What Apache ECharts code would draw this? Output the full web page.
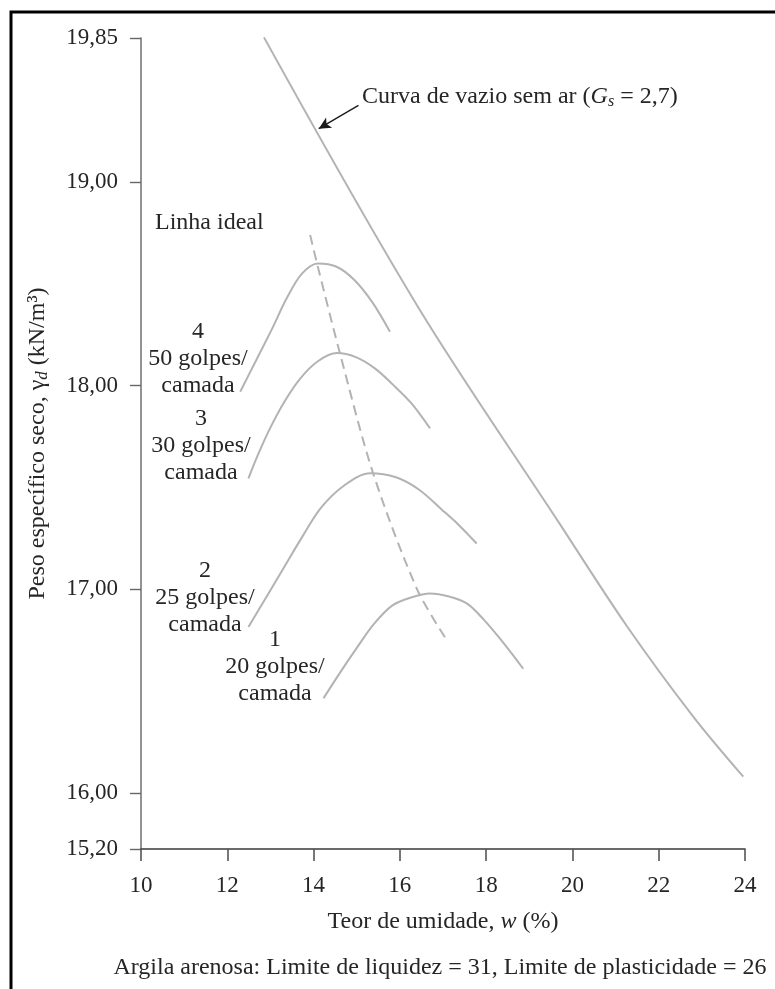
<!DOCTYPE html>
<html>
<head>
<meta charset="utf-8">
<script src="https://cdn.jsdelivr.net/npm/echarts@6/dist/echarts.min.js"></script>
<style>
  html, body { margin: 0; padding: 0; background: #ffffff; }
  #chart { width: 775px; height: 989px; }
</style>
</head>
<body>
<div id="chart"></div>
<script>
// Moisture content axis (%)
const xTicks = [10, 12, 14, 16, 18, 20, 22, 24];

// Dry unit weight axis (kN/m³). The scale is linear from 16 to 19 and broken at
// both ends, so the two end ticks carry the printed end values 15,20 and 19,85.
const yTickValues = [15.725, 16, 17, 18, 19, 19.707];
const yTickLabels = ['15,20', '16,00', '17,00', '18,00', '19,00', '19,85'];

// Compaction curves: moisture content w (%) and dry unit weight (kN/m³)
const curve1W = [14.23, 14.61, 15.01, 15.40, 15.82, 16.26, 16.70, 17.14, 17.56, 17.95, 18.35, 18.86];
const curve1G = [16.465, 16.59, 16.715, 16.83, 16.92, 16.96, 16.98, 16.965, 16.93, 16.85, 16.75, 16.61];

const curve2W = [12.49, 12.90, 13.32, 13.73, 14.17, 14.71, 15.31, 15.91, 16.44, 16.98, 17.37, 17.78];
const curve2G = [16.815, 16.96, 17.11, 17.255, 17.40, 17.51, 17.57, 17.55, 17.49, 17.39, 17.315, 17.225];

const curve3W = [12.49, 12.71, 12.99, 13.32, 13.69, 14.10, 14.54, 14.98, 15.42, 15.84, 16.26, 16.70];
const curve3G = [17.545, 17.66, 17.79, 17.92, 18.035, 18.12, 18.16, 18.14, 18.085, 18.005, 17.915, 17.79];

const curve4W = [12.30, 12.67, 13.04, 13.38, 13.73, 14.10, 14.52, 14.94, 15.36, 15.77];
const curve4G = [17.97, 18.125, 18.28, 18.43, 18.55, 18.60, 18.585, 18.52, 18.41, 18.265];

// Line of optimums (dashed)
const optimumW = [13.92, 14.08, 14.61, 15.38, 16.40, 17.12];
const optimumG = [18.74, 18.60, 18.16, 17.57, 17.00, 16.74];

// Zero-air-voids curve, Gs = 2,7
const zavW = [12.85, 16.41, 19.71, 21.26, 22.80, 23.96];
const zavG = [19.71, 18.39, 17.32, 16.82, 16.375, 16.08];

// Labels of the compaction curves
const curveNumbers = ['1', '2', '3', '4'];
const blowCounts = ['20 golpes/', '25 golpes/', '30 golpes/', '50 golpes/'];
const layerWord = 'camada';

// Arrow pointing at the zero-air-voids curve (tail -> tip)
const arrowTail = [15.04, 19.376];
const arrowTip = [14.12, 19.262];

const zip = (xs, ys) => xs.map((x, i) => [x, ys[i]]);

const SERIF = '"Liberation Serif", "DejaVu Serif", serif';
const TEXT = '#262626';
const CURVE = '#b3b3b3';
const FS = 24;      // annotation text
const FS_TICK = 23; // tick labels

const chart = echarts.init(document.getElementById('chart'), null, { renderer: 'canvas' });

const curveStyle = { color: CURVE, width: 2 };

function yLabel(v) {
  let best = 0;
  yTickValues.forEach((t, i) => { if (Math.abs(t - v) < Math.abs(yTickValues[best] - v)) best = i; });
  return yTickLabels[best];
}

// Stacked curve labels: number / blow count / "camada"
const labelAnchors = [
  { x: 275, y: 667 },
  { x: 205, y: 598 },
  { x: 201, y: 446 },
  { x: 198, y: 359 }
];
const curveLabelGraphics = curveNumbers.map((n, i) => ({
  type: 'text',
  x: labelAnchors[i].x,
  y: labelAnchors[i].y,
  style: {
    text: n + '\n' + blowCounts[i] + '\n' + layerWord,
    font: FS + 'px ' + SERIF,
    fill: TEXT,
    align: 'center',
    verticalAlign: 'middle',
    lineHeight: 27
  }
}));

const compaction = (name, w, g) => ({
  name: name,
  type: 'line',
  data: zip(w, g),
  showSymbol: false,
  smooth: 0.33,
  lineStyle: curveStyle,
  silent: true
});

const option = {
  animation: false,
  backgroundColor: '#ffffff',
  grid: { left: 141, right: 30, top: 38, bottom: 140, containLabel: false },
  xAxis: {
    type: 'value',
    min: 10,
    max: 24,
    interval: 2,
    name: '{n|Teor de umidade, }{i|w}{n| (%)}',
    nameLocation: 'middle',
    nameGap: 61,
    nameTextStyle: {
      rich: {
        n: { fontFamily: SERIF, fontSize: FS, color: TEXT },
        i: { fontFamily: SERIF, fontSize: FS, fontStyle: 'italic', color: TEXT }
      }
    },
    axisLine: { show: true, onZero: false, lineStyle: { color: '#3a3a3a', width: 1.6 } },
    axisTick: { show: true, length: 12, lineStyle: { color: '#555', width: 1.6 } },
    axisLabel: {
      margin: 25,
      fontFamily: SERIF,
      fontSize: FS_TICK,
      color: TEXT,
      formatter: v => String(v)
    },
    splitLine: { show: false }
  },
  yAxis: {
    type: 'value',
    min: yTickValues[0],
    max: yTickValues[yTickValues.length - 1],
    name: '{n|Peso específico seco, γ}{s|d}{n| (kN/m³)}',
    nameLocation: 'middle',
    nameGap: 90,
    nameRotate: 90,
    nameTextStyle: {
      rich: {
        n: { fontFamily: SERIF, fontSize: FS, color: TEXT },
        s: { fontFamily: SERIF, fontSize: 17, fontStyle: 'italic', color: TEXT, padding: [9, 0, 0, 0] }
      }
    },
    axisLine: { show: true, onZero: false, lineStyle: { color: '#777', width: 1.6 } },
    axisTick: { show: true, length: 11, customValues: yTickValues, lineStyle: { color: '#666', width: 1.4 } },
    axisLabel: {
      margin: 23,
      fontFamily: SERIF,
      fontSize: FS_TICK,
      color: TEXT,
      customValues: yTickValues,
      formatter: yLabel
    },
    splitLine: { show: false }
  },
  series: [
    {
      name: 'Curva de vazio sem ar',
      type: 'line',
      data: zip(zavW, zavG),
      showSymbol: false,
      smooth: 0.33,
      lineStyle: curveStyle,
      silent: true,
      markLine: {
        silent: true,
        symbol: ['none', 'arrow'],
        symbolSize: [9, 12],
        label: { show: false },
        lineStyle: { color: '#1a1a1a', width: 1.4, type: 'solid' },
        data: [[{ coord: arrowTail }, { coord: arrowTip }]]
      }
    },
    {
      name: 'Linha ideal',
      type: 'line',
      data: zip(optimumW, optimumG),
      showSymbol: false,
      smooth: 0.3,
      lineStyle: { color: CURVE, width: 2, type: [10, 6] },
      silent: true
    },
    compaction('1', curve1W, curve1G),
    compaction('2', curve2W, curve2G),
    compaction('3', curve3W, curve3G),
    compaction('4', curve4W, curve4G)
  ],
  graphic: [
    {
      type: 'rect',
      shape: { x: 11, y: 12, width: 800, height: 1000 },
      style: { fill: 'none', stroke: '#000', lineWidth: 3 },
      silent: true
    },
    {
      type: 'text',
      x: 155,
      y: 223,
      style: { text: 'Linha ideal', font: FS + 'px ' + SERIF, fill: TEXT, verticalAlign: 'middle' }
    },
    {
      type: 'text',
      x: 362,
      y: 97,
      style: {
        text: '{n|Curva de vazio sem ar (}{g|G}{s|s}{n| = 2,7)}',
        verticalAlign: 'middle',
        rich: {
          n: { fontFamily: SERIF, fontSize: FS, fill: TEXT },
          g: { fontFamily: SERIF, fontSize: FS, fontStyle: 'italic', fill: TEXT },
          s: { fontFamily: SERIF, fontSize: 16, fontStyle: 'italic', fill: TEXT, padding: [10, 0, 0, 0] }
        }
      }
    },
    {
      type: 'text',
      x: 440,
      y: 968,
      style: {
        text: 'Argila arenosa: Limite de liquidez = 31, Limite de plasticidade = 26',
        font: FS + 'px ' + SERIF,
        fill: TEXT,
        align: 'center',
        verticalAlign: 'middle'
      }
    }
  ].concat(curveLabelGraphics)
};

chart.setOption(option);
</script>
</body>
</html>
